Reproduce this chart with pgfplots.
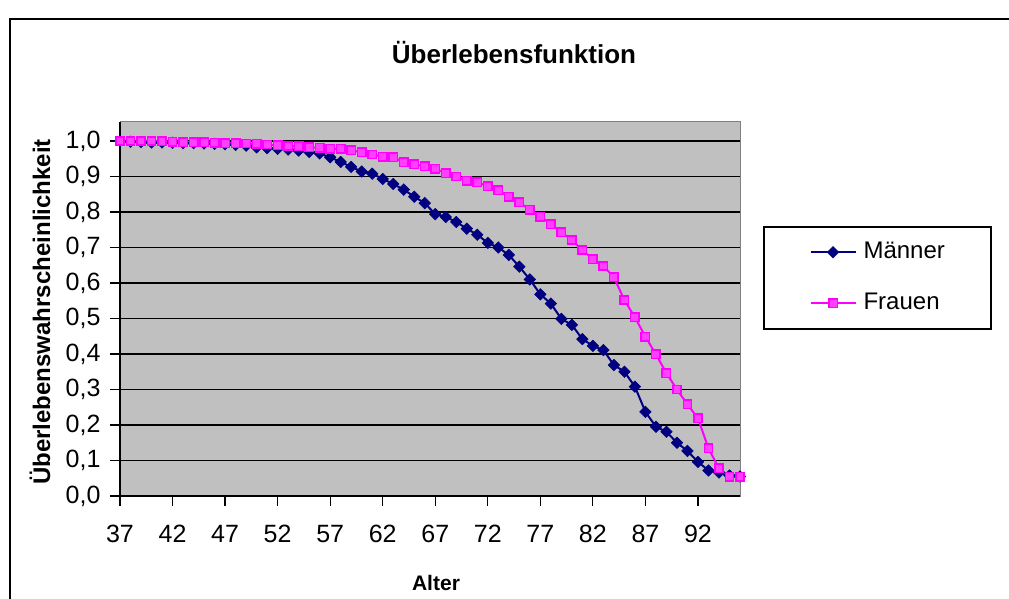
\documentclass[border=0pt]{standalone}
\usepackage{fontspec}
\setmainfont{Liberation Sans}
\usepackage{pgfplots}
\usepackage{pgfplotstable}
\pgfplotsset{compat=1.18}
\definecolor{mnavy}{RGB}{0,0,128}
\definecolor{mmag}{RGB}{255,0,255}
\definecolor{plotbg}{RGB}{192,192,192}
\definecolor{bordergray}{RGB}{128,128,128}

\pgfplotstableread{
age m f
37 1.000 1.000
38 0.998 1.000
39 0.997 1.000
40 0.996 1.000
41 0.996 0.999
42 0.995 0.998
43 0.994 0.997
44 0.994 0.997
45 0.993 0.996
46 0.992 0.995
47 0.991 0.994
48 0.989 0.994
49 0.987 0.993
50 0.982 0.992
51 0.980 0.990
52 0.978 0.988
53 0.976 0.986
54 0.973 0.985
55 0.969 0.982
56 0.965 0.981
57 0.954 0.978
58 0.941 0.978
59 0.927 0.974
60 0.914 0.968
61 0.908 0.962
62 0.893 0.956
63 0.879 0.954
64 0.863 0.940
65 0.843 0.934
66 0.825 0.929
67 0.794 0.922
68 0.786 0.909
69 0.772 0.900
70 0.753 0.888
71 0.736 0.884
72 0.713 0.872
73 0.700 0.861
74 0.679 0.843
75 0.646 0.827
76 0.610 0.806
77 0.568 0.787
78 0.542 0.766
79 0.499 0.743
80 0.482 0.721
81 0.442 0.693
82 0.423 0.667
83 0.411 0.648
84 0.369 0.616
85 0.350 0.552
86 0.308 0.503
87 0.237 0.449
88 0.195 0.399
89 0.181 0.346
90 0.150 0.300
91 0.127 0.258
92 0.096 0.219
93 0.072 0.134
94 0.066 0.078
95 0.058 0.054
96 0.055 0.054
}\datatable

\begin{document}
\begin{tikzpicture}
\useasboundingbox (0pt,0pt) rectangle (1009pt,598pt);
\fill[white] (0pt,0pt) rectangle (1009pt,598pt);
\draw[line width=2pt] (10pt,-30pt) -- (10pt,579pt) -- (1040pt,579pt);
\node[font=\bfseries\fontsize{26}{26}\selectfont] at (514pt,545pt) {Überlebensfunktion};
\node[font=\bfseries\fontsize{24}{24}\selectfont, rotate=90] at (40pt,286pt) {Überlebenswahrscheinlichkeit};
\node[font=\bfseries\fontsize{21}{21}\selectfont] at (436pt,15pt) {Alter};
\begin{axis}[
  at={(120pt,102pt)}, anchor=south west,
  scale only axis, width=620pt, height=374pt,
  xmin=37, xmax=96, ymin=0, ymax=1.0535,
  clip=false,
  axis background/.style={fill=plotbg},
  axis line style={draw=bordergray, line width=1pt},
  xtick={37,42,47,52,57,62,67,72,77,82,87,92},
  ytick={0,0.1,0.2,0.3,0.4,0.5,0.6,0.7,0.8,0.9,1},
  xtick pos=lower, ytick pos=left,
  tick align=outside, major tick length=10pt,
  tick style={black, line width=1.2pt},
  ymajorgrids, major grid style={black, line width=1.2pt},
  /pgf/number format/assume math mode=true,
  ticklabel style={font=\fontsize{25}{25}\selectfont},
  yticklabel style={anchor=east, xshift=-6pt, /pgf/number format/.cd, fixed, fixed zerofill, precision=1, use comma},
  xticklabel style={anchor=north, yshift=-16pt},
  legend style={at={(1.0371,0.7219)}, anchor=north west, draw=black, line width=1.5pt, fill=white,
    minimum width=227pt, minimum height=102pt, font=\fontsize{24}{24}\selectfont,
    row sep=29pt, column sep=7pt,
    nodes={minimum width=0pt, minimum height=0pt, inner sep=0pt, text height=17pt, text depth=5pt}},
  legend cell align=left,
  legend image code/.code={\draw[mark repeat=2,mark phase=2,#1] plot coordinates {(0pt,0pt) (22.5pt,0pt) (45pt,0pt)};},
]
\draw[black, line width=2pt] (rel axis cs:0,1) -- (rel axis cs:0,0) -- (rel axis cs:1,0);
\addplot[mnavy, line width=2pt, mark=square*, mark size=4.1pt,
  mark options={rotate=45, fill=mnavy, draw=mnavy, line width=0.5pt, solid}] table[x=age,y=m]{\datatable};
\addlegendentry{Männer}
\addplot[mmag, line width=2pt, mark=square*, mark size=4.2pt,
  mark options={fill=mmag!75!white, draw=mmag, line width=1.5pt, solid}] table[x=age,y=f]{\datatable};
\addlegendentry{Frauen}
\end{axis}
\end{tikzpicture}
\end{document}
